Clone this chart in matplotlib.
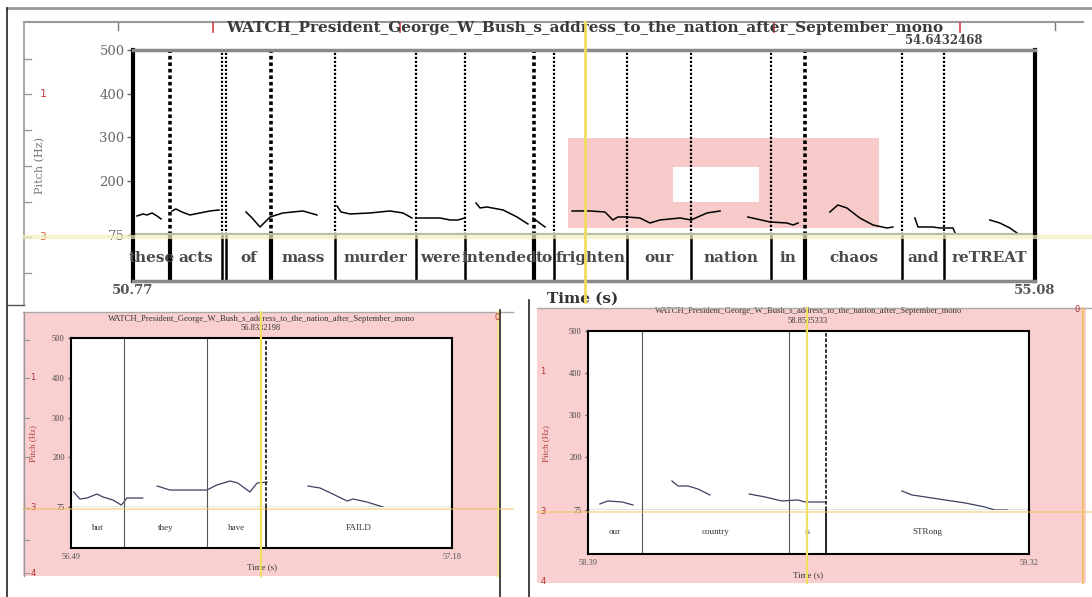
import matplotlib
matplotlib.use("Agg")
import matplotlib.pyplot as plt
from matplotlib.lines import Line2D
from matplotlib.patches import Rectangle
from matplotlib.transforms import blended_transform_factory

W, H = 1092, 597
SOUND = "WATCH_President_George_W_Bush_s_address_to_the_nation_after_September_mono"

# top window: 50.77 - 55.08 s
top_range = (50.77, 55.08)
top_bounds = [50.947, 51.195, 51.214, 51.429, 51.735, 52.122, 52.356, 52.686,
              52.781, 53.130, 53.436, 53.818, 53.981, 54.444, 54.6432468]
top_heavy = [50.947, 51.429, 52.686, 53.981]
top_words = ["these", "acts", "", "of", "mass", "murder", "were", "intended", "to",
             "frighten", "our", "nation", "in", "chaos", "and", "reTREAT"]
top_cursor = 54.6432468
top_t = [
    [50.789, 50.818, 50.837, 50.861, 50.885, 50.904],
    [50.956, 50.975, 51.004, 51.042, 51.090, 51.138, 51.181],
    [51.310, 51.339, 51.377, 51.425, 51.487, 51.582, 51.649],
    [51.745, 51.764, 51.807, 51.902, 51.998, 52.060, 52.103],
    [52.122, 52.237, 52.285, 52.323, 52.356],
    [52.409, 52.428, 52.461, 52.538, 52.605, 52.657],
    [52.681, 52.700, 52.719, 52.739],
    [52.868, 52.954, 53.025, 53.049, 53.063, 53.087, 53.130],
    [53.130, 53.192, 53.240, 53.288, 53.384, 53.436, 53.513, 53.575],
    [53.708, 53.814, 53.895, 53.924, 53.948],
    [54.100, 54.138, 54.181, 54.243, 54.306, 54.373, 54.401],
    [54.506, 54.521, 54.592, 54.626, 54.688, 54.698],
    [54.864, 54.912, 54.960, 54.994],
]
top_f = [
    [118.7, 123.3, 121.0, 125.6, 118.7, 111.8],
    [130.2, 134.8, 127.9, 121.0, 125.6, 130.2, 132.5],
    [127.9, 114.1, 93.4, 116.4, 125.6, 130.2, 121.0],
    [141.7, 127.9, 123.3, 125.6, 130.2, 125.6, 114.1],
    [114.1, 114.1, 109.5, 109.5, 114.1],
    [148.6, 137.1, 139.4, 132.5, 116.4, 100.3],
    [114.1, 107.2, 100.3, 93.4],
    [130.2, 130.2, 127.9, 116.4, 109.5, 116.4, 116.4],
    [116.4, 114.1, 102.6, 109.5, 114.1, 109.5, 125.6, 130.2],
    [116.4, 104.9, 102.6, 98.0, 102.6],
    [127.9, 144.0, 137.1, 114.1, 98.0, 91.1, 93.4],
    [114.1, 93.4, 93.4, 91.1, 91.1, 79.6],
    [109.5, 102.6, 91.1, 79.6],
]

# lower left window: 56.49 - 57.18 s
left_range = (56.49, 57.18)
left_bounds = [56.586, 56.736, 56.843]
left_heavy = [56.843]
left_words = ["but", "they", "have", "FAILD"]
left_cursor = 56.8332198
left_t = [
    [56.495, 56.506, 56.519, 56.537, 56.548, 56.566, 56.581, 56.586, 56.591, 56.620],
    [56.646, 56.669, 56.700, 56.736, 56.754, 56.778, 56.792, 56.814, 56.827, 56.845],
    [56.919, 56.941, 56.964, 56.990, 57.001, 57.026, 57.055],
]
left_f = [
    [112.7, 95.1, 97.6, 107.7, 100.1, 92.6, 80.0, 87.5, 97.6, 97.6],
    [127.8, 117.7, 117.7, 117.7, 130.3, 140.4, 135.3, 112.7, 135.3, 137.8],
    [127.8, 122.8, 107.7, 90.1, 95.1, 87.5, 75.0],
]

# lower right window: 58.39 - 59.32 s
right_range = (58.39, 59.32)
right_bounds = [58.504, 58.814, 58.892]
right_heavy = [58.892]
right_words = ["our", "country", "is", "STRong"]
right_cursor = 58.8525333
right_t = [
    [58.415, 58.432, 58.462, 58.485],
    [58.567, 58.580, 58.601, 58.622, 58.647],
    [58.730, 58.763, 58.799, 58.833, 58.848, 58.862, 58.890],
    [59.052, 59.073, 59.101, 59.143, 59.185, 59.227, 59.248, 59.274],
]
right_f = [
    [89.3, 96.4, 94.0, 86.9],
    [143.9, 132.0, 132.0, 124.9, 110.7],
    [113.0, 106.0, 96.4, 98.8, 94.0, 94.0, 94.0],
    [120.2, 110.7, 106.0, 98.8, 91.7, 82.2, 75.0, 75.0],
]

hz_ticks = [75, 200, 300, 400, 500]

fig = plt.figure(figsize=(W / 100, H / 100), dpi=100)


def rect(x0, y0, x1, y1):
    return [x0 / W, 1 - y1 / H, (x1 - x0) / W, (y1 - y0) / H]


def fline(xs, ys, **kw):
    fig.add_artist(Line2D([x / W for x in xs], [1 - y / H for y in ys], **kw))


def ftext(x, y, s, **kw):
    fig.text(x / W, 1 - y / H, s, **kw)


def frect(x0, y0, x1, y1, **kw):
    fig.add_artist(Rectangle((x0 / W, 1 - y1 / H), (x1 - x0) / W, (y1 - y0) / H,
                             transform=fig.transFigure, **kw))


def panel(box, trange, bounds, heavy, words, ts, fs, big):
    x0, ytop, x1, y75, ybot = box
    ax = fig.add_axes(rect(x0, ytop, x1, y75))
    tier = fig.add_axes(rect(x0, y75, x1, ybot))
    for a in (ax, tier):
        a.set_xlim(*trange)
        a.set_xticks([])
    ax.set_ylim(75, 500)
    tier.set_ylim(0, 1)
    tier.set_yticks([])

    if big:
        fam, tsize, edge = "DejaVu Serif", 9.5, 3
        frame, lw_line, col_line = "#8a8a8a", 1.1, "black"
    else:
        fam, tsize, edge = "Liberation Serif", 6, 1.5
        frame, lw_line, col_line = "black", 0.9, "#3a4060"

    ax.set_yticks(hz_ticks)
    ax.set_yticklabels([str(v) for v in hz_ticks], family=fam, fontsize=tsize,
                       color="#666" if big else "#444")
    ax.tick_params(axis="y", length=4 if big else 2.5, width=1, color="#666", pad=2)

    ax.spines["top"].set(color=frame, lw=2.5 if big else 1.5)
    ax.spines["bottom"].set(color="#b5bca5" if big else "#6a7a50", lw=3 if big else 1)
    tier.spines["top"].set_visible(False)
    tier.spines["bottom"].set(color=frame, lw=2.5 if big else 1.5)
    for a in (ax, tier):
        for side in ("left", "right"):
            a.spines[side].set(color="black", lw=edge)

    for t, f in zip(ts, fs):
        ax.plot(t, f, color=col_line, lw=lw_line, solid_joinstyle="round")

    for b in bounds:
        thick = b in heavy
        if big:
            ax.axvline(b, color="black", ls=(0, (1, 0.8)), lw=2.6 if thick else 1.6)
            tier.axvline(b, color="black", lw=3 if thick else 1.8)
        else:
            ax.axvline(b, color="#222" if thick else "#555",
                       ls=(0, (2, 1)) if thick else "-", lw=1.3 if thick else 0.8)
            tier.axvline(b, color="#222" if thick else "#555", lw=1.4 if thick else 0.8)

    edges = [trange[0]] + bounds + [trange[1]]
    for a, b, w in zip(edges[:-1], edges[1:], words):
        tier.text((a + b) / 2, 0.5, w, ha="center", va="center", family=fam,
                  fontsize=11 if big else 6.5, fontweight="bold" if big else "normal",
                  color="#4a4a4a" if big else "#333")

    for t in trange:
        tier.annotate(f"{t:g}", xy=(t, 0), xycoords=("data", "axes fraction"),
                      xytext=(0, -7 if big else -6.5), textcoords="offset points",
                      ha="center", va="center", family=fam, fontsize=tsize,
                      fontweight="bold" if big else "normal", color="#555")
    return ax, tier


# outer window frame of the top view
fline([7, 1092], [8, 8], color="#999", lw=2)
fline([7, 7], [8, 597], color="#222", lw=1.2)
fline([24, 1083], [22, 22], color="#999", lw=1.5)
fline([24, 24], [22, 305], color="#999", lw=1.2)
fline([7, 24], [305, 305], color="#555", lw=1)
for yy in (59, 94, 130, 166, 202, 237, 273):
    fline([24, 31], [yy, yy], color="#999", lw=1)
for xx in (213, 400, 774, 960):
    fline([xx, xx], [23, 32], color="#d04040", lw=1.2)
fline([1055, 1055], [23, 30], color="#777", lw=1)
fline([118, 118], [23, 30], color="#777", lw=1)

ftext(585, 28, SOUND, ha="center", va="center", fontsize=11, fontweight="bold",
      family="DejaVu Serif", color="#3a3a3a")
ftext(40, 166, "Pitch (Hz)", rotation=90, ha="center", va="center", fontsize=8,
      family="DejaVu Serif", color="#777")
ftext(43, 94, "1", ha="center", va="center", fontsize=8, color="#d04040")
ftext(43, 237, "3", ha="center", va="center", fontsize=8, color="#e06030")

ax_top, tier_top = panel((133, 50, 1035, 235, 281), top_range, top_bounds, top_heavy,
                         top_words, top_t, top_f, big=True)

# pink selection box over the middle of the top view
ax_top.add_patch(Rectangle((568 / W, 1 - 228 / H), 311 / W, 90 / H, transform=fig.transFigure,
                           facecolor="#f8c9c9", edgecolor="none", zorder=0.5))
ax_top.add_patch(Rectangle((673 / W, 1 - 202 / H), 86 / W, 35 / H, transform=fig.transFigure,
                           facecolor="white", edgecolor="none", zorder=0.6))
ax_top.annotate(f"{top_cursor}", xy=(top_cursor, 1), xycoords=("data", "axes fraction"),
                xytext=(0, 6.5), textcoords="offset points", ha="center", va="center",
                family="DejaVu Serif", fontsize=8.5, fontweight="bold", color="#444")
ftext(583, 299, "Time (s)", ha="center", va="center", fontsize=11, fontweight="bold",
      family="DejaVu Serif", color="#333")

# lower panels sit on pink backgrounds
frect(23, 312, 500, 576, facecolor="#f9cfcf", edgecolor="none", zorder=-2)
frect(537, 308, 1086, 583, facecolor="#f9cfcf", edgecolor="none", zorder=-2)
fline([23, 513], [312, 312], color="#aaa", lw=1)
fline([24, 24], [312, 576], color="#999", lw=1)
for yy in (340, 378, 418, 457, 508, 540, 573):
    fline([24, 29], [yy, yy], color="#999", lw=0.8)
fline([537, 1092], [308, 308], color="#aaa", lw=1)
fline([500, 500], [310, 597], color="#222", lw=1.2)
fline([529, 529], [300, 597], color="#222", lw=1.2)
fline([498, 498], [312, 576], color="#f3e49a", lw=1.5)
fline([1083, 1083], [308, 583], color="#f3c070", lw=1.5)

ax_l, tier_l = panel((71, 338, 452, 507, 548), left_range, left_bounds, left_heavy,
                     left_words, left_t, left_f, big=False)
ax_r, tier_r = panel((588, 331, 1029, 510, 554), right_range, right_bounds, right_heavy,
                     right_words, right_t, right_f, big=False)

for ax, cur, ytxt, y0, y1 in ((ax_l, left_cursor, 319, 312, 576),
                              (ax_r, right_cursor, 311, 308, 583)):
    tr = blended_transform_factory(ax.transData, fig.transFigure)
    fig.add_artist(Line2D([cur, cur], [1 - y0 / H, 1 - y1 / H], transform=tr,
                          color="#f0e060", lw=1.6, zorder=5))
    x_mid = sum(ax.get_xlim()) / 2
    ax.text(x_mid, 1 - ytxt / H, SOUND, transform=tr, ha="center", va="center",
            family="Liberation Serif", fontsize=6.2, color="#333")
    ax.annotate(f"{cur}", xy=(cur, 1), xycoords=("data", "axes fraction"),
                xytext=(0, 7), textcoords="offset points", ha="center", va="center",
                family="Liberation Serif", fontsize=6, color="#333")

ftext(262, 567, "Time (s)", ha="center", va="center", fontsize=6.5,
      family="Liberation Serif", color="#333")
ftext(808, 575, "Time (s)", ha="center", va="center", fontsize=6.5,
      family="Liberation Serif", color="#333")

for xx, yy, s in ((33, 378, "1"), (33, 508, "3"), (33, 573, "4"), (497, 318, "0"),
                  (543, 372, "1"), (543, 512, "3"), (543, 582, "4"), (1077, 310, "0")):
    ftext(xx, yy, s, ha="center", va="center", fontsize=6, color="#b03030")
ftext(33, 443, "Pitch (Hz)", rotation=90, ha="center", va="center", fontsize=6.5,
      family="Liberation Serif", color="#b04040")
ftext(546, 443, "Pitch (Hz)", rotation=90, ha="center", va="center", fontsize=6.5,
      family="Liberation Serif", color="#b04040")

# cursor guides running across the screenshot
fline([585, 585], [22, 302], color="#f0dc60", lw=2, zorder=5)
fline([24, 1092], [237, 237], color="#f3eec0", lw=3, alpha=0.7, zorder=4)
fline([23, 513], [509, 509], color="#f0c060", lw=1.2, alpha=0.6, zorder=4)
fline([537, 1092], [512, 512], color="#f0c060", lw=1.2, alpha=0.6, zorder=4)

fig.savefig("out.png", dpi=100)
